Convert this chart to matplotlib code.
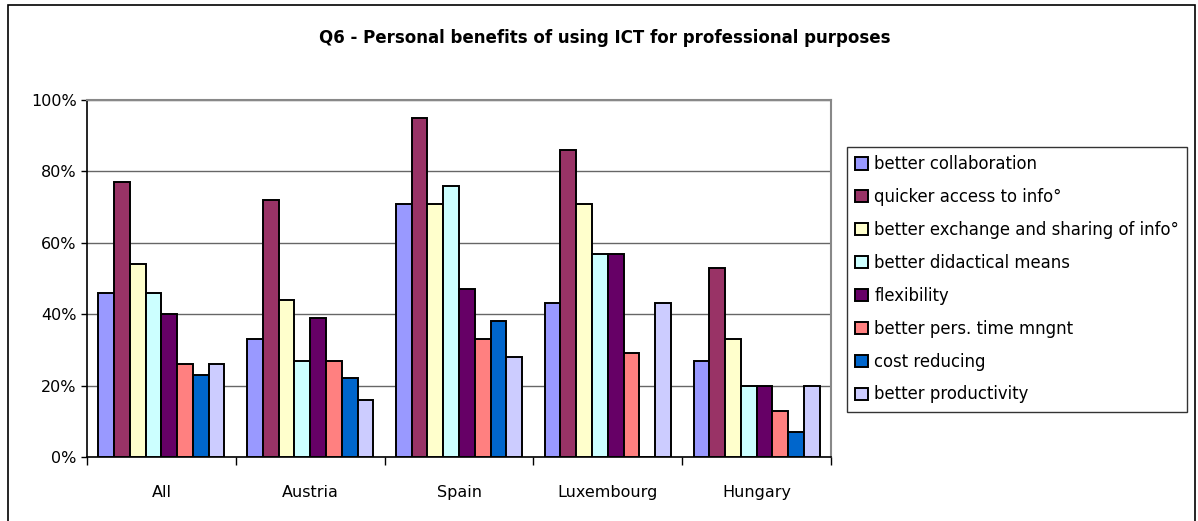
import numpy as np
import matplotlib.pyplot as plt
from matplotlib.patches import Rectangle

countries = ["All", "Austria", "Spain", "Luxembourg", "Hungary"]
benefits = [
    "better collaboration",
    "quicker access to info°",
    "better exchange and sharing of info°",
    "better didactical means",
    "flexibility",
    "better pers. time mngnt",
    "cost reducing",
    "better productivity",
]
# percentage of answers, one list per benefit (All, Austria, Spain, Luxembourg, Hungary)
collaboration = [46, 33, 71, 43, 27]
quicker_access = [77, 72, 95, 86, 53]
exchange_sharing = [54, 44, 71, 71, 33]
didactical = [46, 27, 76, 57, 20]
flexibility = [40, 39, 47, 57, 20]
time_mngnt = [26, 27, 33, 29, 13]
cost_reducing = [23, 22, 38, 0, 7]
productivity = [26, 16, 28, 43, 20]

series = [collaboration, quicker_access, exchange_sharing, didactical,
          flexibility, time_mngnt, cost_reducing, productivity]
colors = ["#9999FF", "#993366", "#FFFFCC", "#CCFFFF",
          "#660066", "#FF8080", "#0066CC", "#CCCCFF"]

fig = plt.figure(figsize=(11.98, 5.21), dpi=100)
# chart area border
fig.patches.append(Rectangle((8 / 1198, -0.02), (1195 - 8) / 1198, 1.01 - 5 / 521 + 0.01,
                             transform=fig.transFigure, fill=False,
                             edgecolor="black", linewidth=1.2))

ax = fig.add_axes([87 / 1198, 1 - 457 / 521, (831 - 87) / 1198, (457 - 100) / 521])

x = np.arange(len(countries))
w = 0.106
for i, (vals, col, lab) in enumerate(zip(series, colors, benefits)):
    ax.bar(x + (i - 3.5) * w, vals, w, color=col, edgecolor="black",
           linewidth=1.4, label=lab, zorder=3)

ax.set_xlim(-0.5, len(countries) - 0.5)
ax.set_ylim(0, 100)
ax.set_yticks(range(0, 101, 20))
ax.set_yticklabels([f"{v}%" for v in range(0, 101, 20)], fontsize=11.5)
ax.set_xticks(x)
ax.set_xticklabels(countries, fontsize=11.5)
ax.tick_params(axis="x", length=0, pad=20)
ax.tick_params(axis="y", length=4, direction="out", width=1)
# category separators below the axis
ax.set_xticks(np.arange(-0.5, len(countries)), minor=True)
ax.tick_params(axis="x", which="minor", length=6, direction="out", width=1)

ax.grid(axis="y", color="#666666", linewidth=1, zorder=0)
ax.spines["top"].set_color("#888888")
ax.spines["right"].set_color("#888888")
ax.spines["top"].set_linewidth(1.5)
ax.spines["right"].set_linewidth(1.5)
ax.spines["left"].set_linewidth(1.2)
ax.spines["bottom"].set_linewidth(1.2)

fig.text(0.505, 1 - 38 / 521, "Q6 - Personal benefits of using ICT for professional purposes",
         ha="center", va="center", fontsize=12, fontweight="bold")

leg = fig.legend(loc="upper left", bbox_to_anchor=(847 / 1198, 1 - 147 / 521),
                 fontsize=11.9, frameon=True, fancybox=False, edgecolor="black",
                 handlelength=0.75, handleheight=0.75, handletextpad=0.4,
                 labelspacing=0.9, borderaxespad=0, borderpad=0.5)
leg.get_frame().set_linewidth(1)

fig.savefig("out.png", dpi=100)
